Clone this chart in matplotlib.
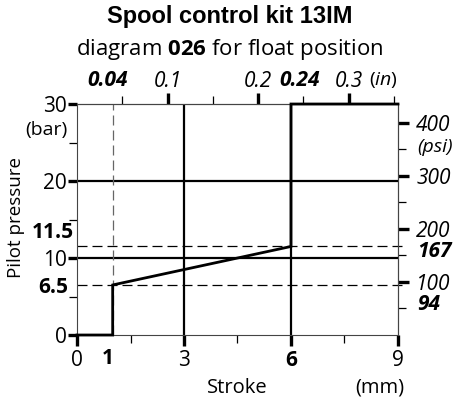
import numpy as np
import matplotlib
matplotlib.use("Agg")
from matplotlib import pyplot as plt
from matplotlib.ticker import FixedLocator, FixedFormatter

# stroke (mm) vs pilot pressure (bar) for the float position
stroke_mm = [0, 1, 1, 6, 6, 9]
pressure_bar = [0, 0, 6.5, 11.5, 30, 30]

x_major = [0, 3, 6, 9]
x_major_labels = ["0", "3", "6", "9"]
x_minor = [1.5, 4.5, 7.5]
y_major = [0, 10, 20, 30]
y_minor = [5, 15, 25]
in_major = [0.1, 0.2, 0.3]
in_minor = [0.05, 0.15, 0.25, 0.35]
psi_major = [100, 200, 300, 400]
psi_minor = [50, 150, 250, 350]

start_mm, end_mm = 1, 6
start_bar, end_bar = 6.5, 11.5
start_in, end_in = 0.04, 0.24
start_psi, end_psi = 94, 167

MM_PER_IN = 25.4
PSI_PER_BAR = 14.5038

TICK = 15     # tick label size
WORD = 14     # unit / axis words
MARK = 15     # bold marker labels

main_font = "Open Sans"
plt.rcParams["font.family"] = [main_font, "DejaVu Sans"]
plt.rcParams["mathtext.fontset"] = "custom"
plt.rcParams["mathtext.rm"] = main_font
plt.rcParams["mathtext.bf"] = main_font + ":bold"
plt.rcParams["mathtext.it"] = main_font + ":italic"
plt.rcParams["xtick.labelsize"] = TICK
plt.rcParams["ytick.labelsize"] = TICK

fig = plt.figure(figsize=(4.6, 4.03), dpi=100)
ax = fig.add_axes([0.1674, 0.1687, 0.6978, 0.5732])
ax.set_xlim(0, 9)
ax.set_ylim(0, 30)

# reference grid
for gx in [3, 6]:
    ax.axvline(gx, color="black", lw=1.6)
for gy in [10, 20]:
    ax.axhline(gy, color="black", lw=1.6)

# helper dashes at the switching points
ax.axvline(start_mm, color="#666666", lw=0.9, dashes=(8, 4))
for hy in [start_bar, end_bar]:
    ax.plot([0, 1.025], [hy, hy], transform=ax.get_yaxis_transform(),
            color="black", lw=0.9, dashes=(8, 4), clip_on=False)

ax.plot(stroke_mm, pressure_bar, color="black", lw=2.0,
        solid_joinstyle="miter", clip_on=False, zorder=5)

for s in ax.spines.values():
    s.set_color("#444444")
    s.set_linewidth(0.8)

# bottom / left axes
ax.xaxis.set_major_locator(FixedLocator(x_major))
ax.xaxis.set_major_formatter(FixedFormatter(x_major_labels))
ax.xaxis.set_minor_locator(FixedLocator(x_minor))
ax.yaxis.set_major_locator(FixedLocator(y_major))
ax.yaxis.set_major_formatter(FixedFormatter([str(v) for v in y_major]))
ax.yaxis.set_minor_locator(FixedLocator(y_minor))
ax.tick_params(which="major", width=2.4, color="black")
ax.tick_params(which="minor", length=6, width=0.9, color="black")
ax.tick_params(axis="x", which="major", length=8, pad=3)
ax.tick_params(axis="y", which="major", length=6.5, pad=1)

ax.text(0.87, -3.1, "1", ha="center", va="center", fontsize=MARK,
        fontweight="bold")
ax.text(-0.25, 6.23, f"{start_bar}", ha="right", va="center", fontsize=MARK,
        fontweight="bold")
ax.text(-0.08, 13.25, f"{end_bar}", ha="right", va="center", fontsize=MARK,
        fontweight="bold")
ax.text(-0.28, 26.6, "(bar)", ha="right", va="center", fontsize=WORD)

ax.text(4.5, -6.88, "Stroke", ha="center", va="center", fontsize=14.5)
ax.text(8.49, -6.88, "(mm)", ha="center", va="center", fontsize=14.5)
fig.text(0.0348, 0.4615, "Pilot pressure", rotation=90, ha="center",
         va="center", fontsize=13.5)

# top axis in inches
top = ax.secondary_xaxis("top", functions=(lambda v: v / MM_PER_IN,
                                           lambda v: v * MM_PER_IN))
top.xaxis.set_major_locator(FixedLocator(in_major))
top.xaxis.set_major_formatter(FixedFormatter([f"{v:.1f}" for v in in_major]))
top.xaxis.set_minor_locator(FixedLocator(in_minor))
top.tick_params(which="major", length=8, width=2.4, pad=1)
top.tick_params(which="minor", length=6, width=0.9)
top.spines["top"].set_color("#444444")
top.spines["top"].set_linewidth(0.8)
ax.text(0.87, 33.1, f"{start_in}", ha="center", va="center", fontsize=MARK,
        fontweight="bold", fontstyle="italic")
ax.text(6.24, 33.1, f"{end_in}", ha="center", va="center", fontsize=MARK,
        fontweight="bold", fontstyle="italic")
ax.text(8.2, 33.1, "($\\mathit{in}$)", ha="left", va="center", fontsize=WORD)

# right axis in psi
right = ax.secondary_yaxis("right", functions=(lambda v: v * PSI_PER_BAR,
                                               lambda v: v / PSI_PER_BAR))
right.yaxis.set_major_locator(FixedLocator(psi_major))
right.yaxis.set_major_formatter(FixedFormatter([str(v) for v in psi_major]))
right.yaxis.set_minor_locator(FixedLocator(psi_minor))
right.tick_params(which="major", length=8, width=2.4, pad=5)
right.tick_params(which="minor", length=5.5, width=0.9)
right.spines["right"].set_color("#444444")
right.spines["right"].set_linewidth(0.8)
ax.text(9.53, 24.4, "(psi)", ha="left", va="center", fontsize=WORD,
        fontstyle="italic")
ax.text(9.53, 10.85, f"{end_psi}", ha="left", va="center", fontsize=MARK,
        fontweight="bold", fontstyle="italic")
ax.text(9.53, 3.9, f"{start_psi}", ha="left", va="center", fontsize=MARK,
        fontweight="bold", fontstyle="italic")

fig.text(0.5, 0.958, "Spool control kit 13IM", ha="center", va="center",
         fontsize=17, fontweight="bold", family="Liberation Sans")
fig.text(0.5, 0.876, "diagram $\\mathbf{026}$ for float position",
         ha="center", va="center", fontsize=16)

# label styles have to be set once the tick objects exist
fig.canvas.draw()
plt.setp(top.get_xticklabels(), fontstyle="italic")
plt.setp(right.get_yticklabels(), fontstyle="italic")
for lbl in ax.get_xticklabels():
    if lbl.get_text() == str(end_mm):
        lbl.set_fontweight("bold")
        lbl.set_fontsize(MARK)

fig.savefig("out.png", dpi=100)
